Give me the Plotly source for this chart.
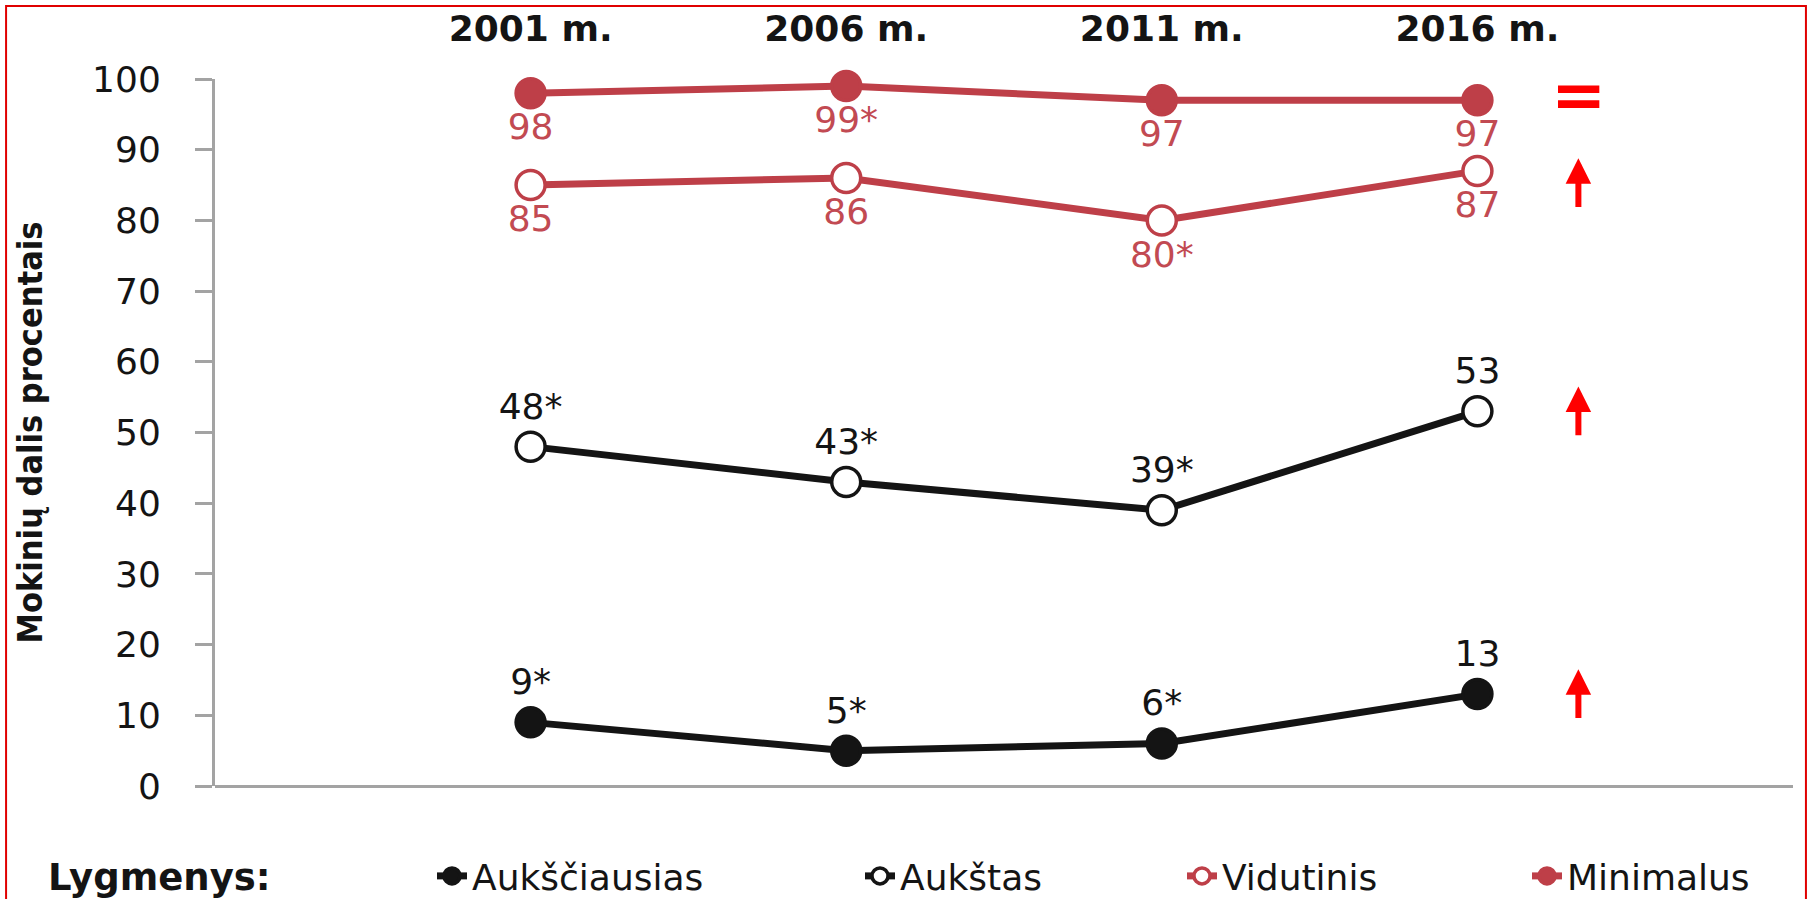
import plotly.graph_objects as go

# --- duomenys ---
years = ['2001 m.', '2006 m.', '2011 m.', '2016 m.']
levels = ['Aukščiausias', 'Aukštas', 'Vidutinis', 'Minimalus']

auksciausias = [9, 5, 6, 13]
aukstas = [48, 43, 39, 53]
vidutinis = [85, 86, 80, 87]
minimalus = [98, 99, 97, 97]

# * - skirtumas nuo 2016 m. statistiškai reikšmingas
auksciausias_lbl = ['9*', '5*', '6*', '13']
aukstas_lbl = ['48*', '43*', '39*', '53']
vidutinis_lbl = ['85', '86', '80*', '87']
minimalus_lbl = ['98', '99*', '97', '97']

# pokytis 2016 m.
trend = ['up', 'up', 'up', 'same']

dark = '#141414'
red = '#be3f48'
red_txt = '#c24a52'
axis_gray = '#a3a3a3'
txt_font = 'DejaVu Sans, Verdana, sans-serif'

series = [
    (levels[0], auksciausias, auksciausias_lbl, dark, dark, 'top center', dark, 383),
    (levels[1], aukstas, aukstas_lbl, dark, 'white', 'top center', dark, 277),
    (levels[2], vidutinis, vidutinis_lbl, red, 'white', 'bottom center', red_txt, 300),
    (levels[3], minimalus, minimalus_lbl, red, red, 'bottom center', red_txt, 250),
]

fig = go.Figure()
for name, vals, lbl, col, fill, pos, tcol, lw in series:
    fig.add_trace(go.Scatter(
        x=years, y=vals, name=name,
        mode='lines+markers+text',
        text=lbl, textposition=pos,
        textfont=dict(family=txt_font, size=36, color=tcol),
        line=dict(color=col, width=7),
        marker=dict(size=29, color=fill, line=dict(color=col, width=3.5)),
        cliponaxis=False,
        legendwidth=lw,
    ))

# rodyklės / lygybės ženklas dešinėje
arrow_x = len(years) - 1 + 0.32
for s, tr in zip(series, trend):
    last = s[1][-1]
    if tr == 'up':
        # kai skaičius po tašku, rodyklė truputį žemiau
        mid = last - 1.7 if s[5].startswith('bottom') else last
        fig.add_annotation(
            x=arrow_x, y=mid + 3.5, ax=arrow_x, ay=mid - 3.6,
            xref='x', yref='y', axref='x', ayref='y',
            text='', showarrow=True, arrowhead=2, arrowsize=0.85,
            arrowwidth=6, arrowcolor='#ff0000', standoff=0, startstandoff=0,
        )
    else:
        fig.add_annotation(
            x=arrow_x, y=last + 0.6, xref='x', yref='y',
            text='<b>=</b>', showarrow=False,
            font=dict(family=txt_font, size=66, color='#ff0000'),
        )

# legendos pavadinimas
fig.add_annotation(
    x=-0.107, y=-0.13, xref='paper', yref='paper',
    xanchor='left', yanchor='middle', showarrow=False,
    text='<b>Lygmenys:</b>',
    font=dict(family=txt_font, size=37, color=dark),
)

# raudonas rėmelis
fig.add_shape(
    type='rect', xref='paper', yref='paper',
    x0=-0.1324, x1=1.0082, y0=-0.2, y1=1.1033,
    line=dict(color='#e00000', width=2), fillcolor='rgba(0,0,0,0)',
)

fig.update_layout(
    width=1812, height=899,
    margin=dict(l=215, r=19, t=79, b=113),
    paper_bgcolor='white', plot_bgcolor='white',
    legend=dict(
        orientation='h', xref='container', yref='container',
        x=432 / 1812, y=1 - 876 / 899, xanchor='left', yanchor='middle',
        font=dict(family=txt_font, size=36, color=dark),
        bgcolor='rgba(0,0,0,0)',
    ),
    xaxis=dict(
        type='category', side='top', range=[-1, len(years)],
        showline=False, showgrid=False, zeroline=False, ticks='',
        tickfont=dict(family=txt_font, size=36, color=dark, weight='bold'),
        ticklabelstandoff=30, automargin=False,
    ),
    yaxis=dict(
        range=[0, 100], dtick=10, automargin=False,
        showline=True, linecolor=axis_gray, linewidth=3,
        ticks='outside', ticklen=17, tickwidth=3, tickcolor=axis_gray,
        showgrid=False, zeroline=True, zerolinecolor=axis_gray, zerolinewidth=3,
        tickfont=dict(family=txt_font, size=36, color=dark),
        ticklabelstandoff=27,
        title=dict(
            text='Mokinių dalis procentais', standoff=40,
            font=dict(family='Liberation Sans Narrow, DejaVu Sans Condensed, Arial Narrow, sans-serif',
                      size=34, color=dark, weight='bold'),
        ),
    ),
)

# puslapio paraštė 0, kad grafikas užpildytų visą langą
fig.write_html('out.html', config={'displayModeBar': False},
               post_script="document.body.style.margin='0';")
